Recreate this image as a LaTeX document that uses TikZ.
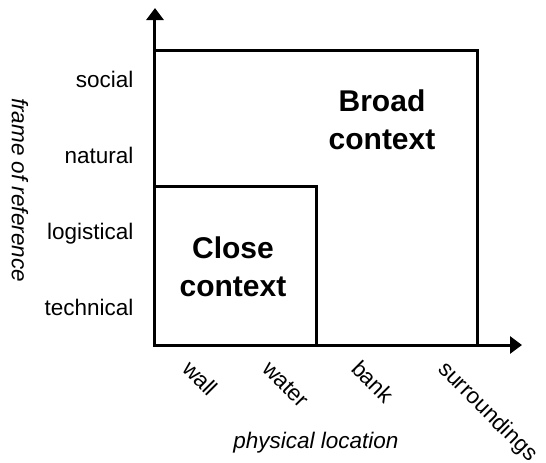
\documentclass[tikz,border=0pt]{standalone}
\usepackage{fontspec}
\setmainfont{Liberation Sans}
\usetikzlibrary{arrows.meta}

\tikzset{
  axis/.style = {{Triangle[width = 8.5pt, length = 6pt]}-{Triangle[width = 8.5pt, length = 6pt]}, line join = miter},
  level/.style = {anchor = base east, inner sep = 0pt, font = \fontsize{11.25}{13}\selectfont},
  place/.style = {anchor = base west, rotate = -45, inner sep = 0pt, font = \fontsize{11.25}{13}\selectfont},
  title/.style = {inner sep = 0pt, font = \fontsize{11.25}{13}\selectfont\itshape},
  ctx/.style = {align = center, inner sep = 0pt, font = \fontsize{15}{19}\selectfont\bfseries}
}

\begin{document}
\begin{tikzpicture}[x = .5pt, y = .5pt, line width = 1.5pt]
  \useasboundingbox (-155, -117) rectangle (391, 345);
  \coordinate (o) at (0, 0);
  \coordinate (ytip) at (0, 337);
  \coordinate (xtip) at (367, 0);
  \coordinate (broad) at (322, 295);
  \coordinate (close) at (161, 159);
  % boxes
  \draw (o) rectangle (broad);
  \draw (o) rectangle (close);
  \draw[axis] (ytip) -- (o) -- (xtip);
  % frame of reference
  \node[level] (technical)  at (-20, 30)  {technical};
  \node[level] (logistical) at (-20, 106) {logistical};
  \node[level] (natural)    at (-20, 182) {natural};
  \node[level] (social)     at (-20, 258) {social};
  \node[title, rotate = -90] (frame) at (-135, 155) {frame of reference};
  % physical location
  \node[place] (wall)         at (25, -24)  {wall};
  \node[place] (water)        at (105, -24) {water};
  \node[place] (bank)         at (194, -24) {bank};
  \node[place] (surroundings) at (281, -24) {surroundings};
  \node[title] (location) at (161, -98) {physical location};
  % contexts
  \node[ctx] (closectx) at (78, 78)   {Close\\context};
  \node[ctx] (broadctx) at (227, 225) {Broad\\context};
\end{tikzpicture}
\end{document}
